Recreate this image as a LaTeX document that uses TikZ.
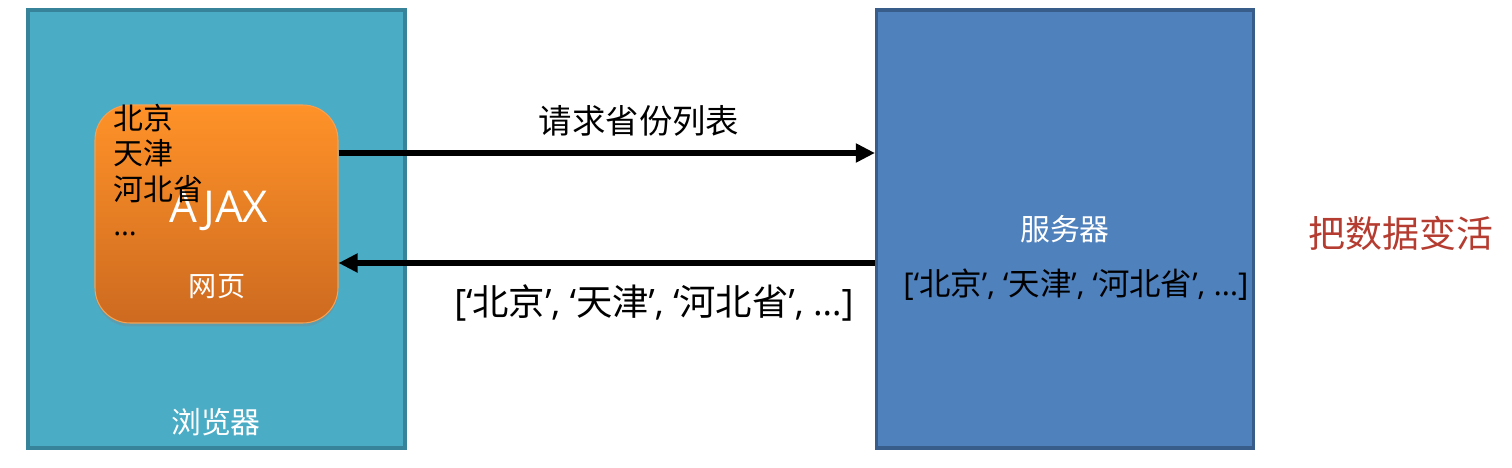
\documentclass[tikz,border=0pt]{standalone}
\usepackage{fontspec}
\setmainfont{Noto Sans CJK SC}
\newfontfamily\latin{Open Sans}
\usetikzlibrary{arrows.meta,shadows}
\definecolor{browserfill}{RGB}{75,172,198}
\definecolor{browserline}{RGB}{55,132,154}
\definecolor{serverfill}{RGB}{79,129,189}
\definecolor{serverline}{RGB}{56,93,138}
\definecolor{pagetop}{RGB}{255,146,40}
\definecolor{pagebottom}{RGB}{205,106,32}
\definecolor{pageline}{RGB}{246,160,80}
\definecolor{livered}{RGB}{181,60,48}
\newcommand{\provlist}{{\latin[‘}北京{\latin’, ‘}天津{\latin’, ‘}河北省{\latin’, …]}}

\begin{document}
\begin{tikzpicture}[x=0.02cm,y=-0.02cm,
  box/.style={draw, line width=1.8pt, minimum width=7.54cm, minimum height=8.76cm, inner sep=0pt},
  page/.style={draw=pageline, line width=0.6pt, rounded corners=0.7cm,
    minimum width=4.86cm, minimum height=4.36cm, top color=pagetop, bottom color=pagebottom,
    drop shadow={shadow xshift=0pt, shadow yshift=-2pt, opacity=0.3}},
  flow/.style={line width=3.3pt, -{Triangle[length=0.38cm,width=0.36cm]}},
  whitetext/.style={text=white, inner sep=0pt},
  blacktext/.style={text=black, inner sep=0pt}
]
  \useasboundingbox (0,0) rectangle (1512,467);
  \node[box, draw=browserline, fill=browserfill] (browser) at (216.5,229) {};
  \node[box, draw=serverline, fill=serverfill] (server) at (1065,229) {};
  \node[page] (page) at (216.5,214) {};

  \node[whitetext, font=\fontsize{17}{20}\selectfont] (browsername) at (216,422) {浏览器};
  \node[whitetext, font=\latin\fontsize{25}{30}\selectfont] (ajax) at (219,211) {AJAX};
  \node[whitetext, font=\fontsize{16}{19}\selectfont] (pagename) at (217,287) {网页};
  \node[blacktext, anchor=west, align=left, font=\fontsize{17}{20}\selectfont] (cities) at (113,170)
    {北京\\天津\\河北省\\{\latin …}};

  \node[whitetext, font=\fontsize{17}{20}\selectfont] (servername) at (1065,229) {服务器};
  \node[blacktext, font=\fontsize{17.9}{21}\selectfont] (serverdata) at (1076,285) {\provlist};

  \coordinate (reqy) at (0,153);
  \coordinate (respy) at (0,263);
  \draw[flow] (page.east |- reqy) -- (server.west |- reqy);
  \draw[flow] (server.west |- respy) -- (page.east |- respy);
  \node[blacktext, font=\fontsize{19}{22}\selectfont] (reqlabel) at (639,121) {请求省份列表};
  \node[blacktext, font=\fontsize{20.7}{24}\selectfont] (resplabel) at (654,303) {\provlist};

  \node[inner sep=0pt, text=livered, font=\fontsize{21}{25}\selectfont] (slogan) at (1401,233) {把数据变活};
\end{tikzpicture}
\end{document}
